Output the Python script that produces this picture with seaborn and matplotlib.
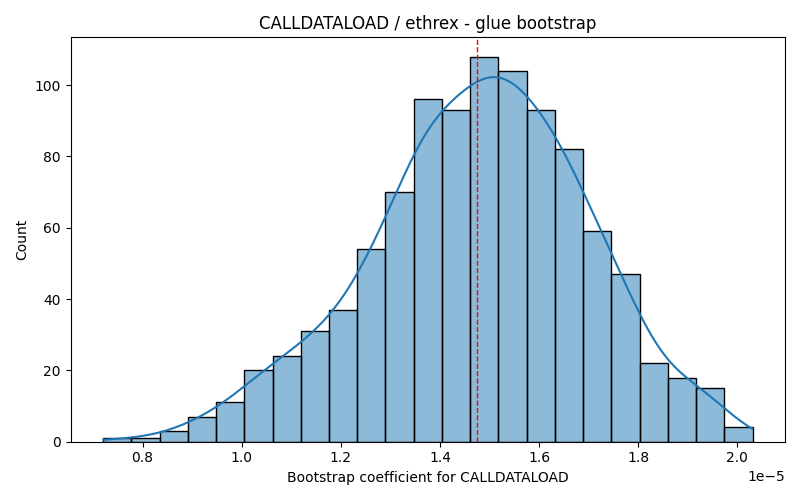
import numpy as np
import pandas as pd
import seaborn as sns
import matplotlib.pyplot as plt

# bootstrap histogram (1000 resamples)
bin_lo = 0.7204e-5
bin_hi = 2.0305e-5
counts = [1, 1, 3, 7, 11, 20, 24, 31, 37, 54, 70, 96,
          93, 108, 104, 93, 82, 59, 47, 22, 18, 15, 4]
point_estimate = 1.474e-5

edges = np.linspace(bin_lo, bin_hi, len(counts) + 1)
df = pd.DataFrame({'coef': (edges[:-1] + edges[1:]) / 2, 'n': counts})

# weighted kde sees only ~14 effective points, so shrink bandwidth back
# to what 1000 raw samples would give
fig, ax = plt.subplots(figsize=(8, 5), dpi=100)
sns.histplot(data=df, x='coef', weights='n', bins=len(counts),
             binrange=(bin_lo, bin_hi), kde=True,
             kde_kws={'bw_adjust': 0.41, 'cut': 0.33}, ax=ax)
ax.axvline(point_estimate, color='red', linestyle='--', linewidth=1)
ax.set_title('CALLDATALOAD / ethrex - glue bootstrap')
ax.set_xlabel('Bootstrap coefficient for CALLDATALOAD')
ax.set_ylabel('Count')

plt.tight_layout()
plt.savefig('out.png')
